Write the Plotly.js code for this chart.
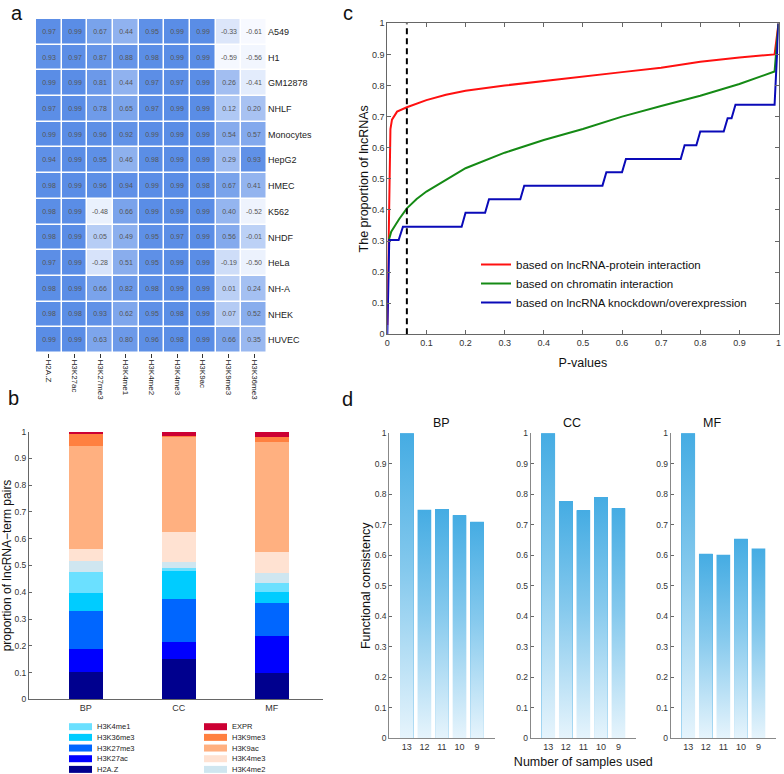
<!DOCTYPE html>
<html><head><meta charset="utf-8">
<script src="https://cdn.plot.ly/plotly-3.0.1.min.js"></script>
<style>html,body{margin:0;padding:0;background:#fff}</style>
</head><body><div id="chart" style="width:784px;height:774px"></div>
<script>
// ---------- Panel a: correlation heatmap ----------
const histoneMarks = ['H2A.Z','H3K27ac','H3K27me3','H3K4me1','H3K4me2','H3K4me3','H3K9ac','H3K9me3','H3K36me3'];
const cellLines = ['A549','H1','GM12878','NHLF','Monocytes','HepG2','HMEC','K562','NHDF','HeLa','NH-A','NHEK','HUVEC'];
const corrA549      = [0.97,0.99,0.67,0.44,0.95,0.99,0.99,-0.33,-0.61];
const corrH1        = [0.93,0.97,0.87,0.88,0.98,0.99,0.99,-0.59,-0.56];
const corrGM12878   = [0.99,0.99,0.81,0.44,0.97,0.97,0.99,0.26,-0.41];
const corrNHLF      = [0.97,0.99,0.78,0.65,0.97,0.99,0.99,0.12,0.20];
const corrMonocytes = [0.99,0.99,0.96,0.92,0.99,0.99,0.99,0.54,0.57];
const corrHepG2     = [0.94,0.99,0.95,0.46,0.98,0.99,0.99,0.29,0.93];
const corrHMEC      = [0.98,0.99,0.96,0.94,0.99,0.99,0.98,0.67,0.41];
const corrK562      = [0.98,0.99,-0.48,0.66,0.99,0.99,0.99,0.40,-0.52];
const corrNHDF      = [0.98,0.99,0.05,0.49,0.95,0.97,0.99,0.56,-0.01];
const corrHeLa      = [0.97,0.99,-0.28,0.51,0.95,0.99,0.99,-0.19,-0.50];
const corrNHA       = [0.98,0.99,0.66,0.82,0.98,0.99,0.99,0.01,0.24];
const corrNHEK      = [0.98,0.98,0.93,0.62,0.95,0.98,0.99,0.07,0.52];
const corrHUVEC     = [0.99,0.99,0.63,0.80,0.96,0.98,0.99,0.66,0.35];

// ---------- Panel b: stacked proportions ----------
const stackMarks = ['H2A.Z','H3K27ac','H3K27me3','H3K36me3','H3K4me1','H3K4me2','H3K4me3','H3K9ac','H3K9me3','EXPR'];
const goCategories = ['BP','CC','MF'];
const bpShare = [0.103,0.086,0.141,0.069,0.077,0.042,0.045,0.385,0.043,0.009];
const ccShare = [0.150,0.065,0.160,0.106,0.011,0.022,0.111,0.354,0.005,0.016];
const mfShare = [0.100,0.135,0.125,0.042,0.034,0.036,0.078,0.410,0.021,0.019];

// ---------- Panel c: cumulative proportion of lncRNAs ----------
const pRed    = [0,0.003,0.005,0.008,0.012,0.025,0.05,0.1,0.15,0.2,0.3,0.4,0.5,0.6,0.7,0.8,0.9,0.99,1.0];
const propRed = [0.03,0.30,0.55,0.66,0.69,0.716,0.73,0.753,0.77,0.783,0.80,0.815,0.83,0.843,0.857,0.876,0.89,0.90,1.0];
const pGreen    = [0.004,0.01,0.02,0.03,0.05,0.075,0.1,0.15,0.2,0.3,0.4,0.5,0.6,0.7,0.8,0.9,0.99,1.0];
const propGreen = [0.303,0.33,0.35,0.37,0.405,0.435,0.459,0.496,0.534,0.584,0.625,0.66,0.70,0.734,0.767,0.805,0.845,1.0];
const pBlue    = [0,0.005,0.029,0.04,0.19,0.2,0.25,0.26,0.34,0.35,0.55,0.56,0.6,0.61,0.75,0.76,0.79,0.8,0.86,0.87,0.88,0.89,0.99,1.0];
const propBlue = [0.0,0.303,0.303,0.346,0.346,0.391,0.391,0.434,0.434,0.478,0.478,0.521,0.521,0.564,0.564,0.608,0.608,0.652,0.652,0.695,0.695,0.738,0.738,1.0];
const curveNames = ['based on lncRNA-protein interaction','based on chromatin interaction','based on lncRNA knockdown/overexpression'];
const pThreshold = 0.05;

// ---------- Panel d: functional consistency ----------
const sampleCounts = ['13','12','11','10','9'];
const bpConsistency = [1.0,0.749,0.751,0.731,0.710];
const ccConsistency = [1.0,0.777,0.748,0.790,0.754];
const mfConsistency = [1.0,0.605,0.602,0.654,0.622];

// ================= build =================
const W = 784, H = 774;
const fx = p => p / W;
const fy = p => 1 - p / H;
const FONT = 'Liberation Sans, Arial, sans-serif';

const corrMatrix = [corrA549,corrH1,corrGM12878,corrNHLF,corrMonocytes,corrHepG2,corrHMEC,corrK562,corrNHDF,corrHeLa,corrNHA,corrNHEK,corrHUVEC];
const stackColors = ['#00008e','#0000ff','#0066ff','#00ccff','#6be0ff','#cfe6f0','#ffe2d2','#ffb080','#ff8040','#cc0033'];
const curveColors = ['#ff1010','#158a15','#0a0ab8'];

const traces = [];

traces.push({
  type:'heatmap', x:histoneMarks, y:cellLines, z:corrMatrix, xaxis:'x', yaxis:'y',
  zmin:-0.62, zmax:0.99, colorscale:[[0,'#f8faff'],[1,'#5a8de6']], showscale:false,
  xgap:1.5, ygap:1.5, texttemplate:'%{z:.2f}', textfont:{size:7, color:'#555', family:FONT},
  hoverinfo:'skip'
});

stackMarks.forEach((m,i) => {
  traces.push({
    type:'bar', name:m, x:[1,2,3], y:[bpShare[i],ccShare[i],mfShare[i]],
    xaxis:'x2', yaxis:'y2', width:0.366, marker:{color:stackColors[i], line:{width:0}},
    showlegend:false, hoverinfo:'skip'
  });
});

const dPanels = [[bpConsistency,'x4','y4'],[ccConsistency,'x5','y5'],[mfConsistency,'x6','y6']];
dPanels.forEach(([vals,xa,ya]) => {
  traces.push({
    type:'bar', x:sampleCounts.map((s,i)=>i+1), y:vals, xaxis:xa, yaxis:ya, width:0.78,
    marker:{color:'#47ace3', line:{width:0}}, showlegend:false, hoverinfo:'skip'
  });
});

const pSets = [[pRed,propRed],[pGreen,propGreen],[pBlue,propBlue]];
pSets.forEach(([px,py],i) => {
  traces.push({
    type:'scatter', mode:'lines', name:curveNames[i], x:px, y:py, xaxis:'x3', yaxis:'y3',
    line:{color:curveColors[i], width:2}, showlegend:true, hoverinfo:'skip'
  });
});

// gradient overlay for panel d bars
dPanels.forEach(([vals,xa,ya]) => {
  vals.forEach((v,i) => {
    const c = i + 1;
    traces.push({
      type:'scatter', mode:'none', xaxis:xa, yaxis:ya,
      x:[c-0.39,c-0.39,c+0.39,c+0.39,c-0.39], y:[0,v,v,0,0], fill:'toself',
      fillgradient:{type:'vertical', colorscale:[[0,'#e6f4fc'],[0.55,'#85c9ed'],[1,'#45ace3']]},
      showlegend:false, hoverinfo:'skip'
    });
  });
});

const axBase = {showgrid:false, zeroline:false, showline:true, linecolor:'#666', linewidth:1,
  tickfont:{size:9, color:'#333', family:FONT}, tickcolor:'#666'};

const layout = {
  width:W, height:H, margin:{l:0,r:0,t:0,b:0}, paper_bgcolor:'#fff', plot_bgcolor:'rgba(0,0,0,0)',
  font:{family:FONT, color:'#111'}, barmode:'stack', showlegend:true,
  xaxis:{domain:[fx(36),fx(267)], anchor:'y', type:'category', tickangle:90, ticks:'outside', ticklen:4,
    tickcolor:'#333', showline:false, showgrid:false, zeroline:false, tickfont:{size:8,color:'#222'}},
  yaxis:{domain:[fy(353),fy(19)], anchor:'x', type:'category', autorange:'reversed', side:'right',
    ticks:'', showline:false, showgrid:false, zeroline:false, tickfont:{size:9,color:'#222'}},
  xaxis2:Object.assign({}, axBase, {domain:[fx(29),fx(323)], anchor:'y2', range:[0.39,3.55],
    tickvals:[1,2,3], ticktext:goCategories, ticks:'', tickfont:{size:9,color:'#333'}}),
  yaxis2:Object.assign({}, axBase, {domain:[fy(699.3),fy(431.7)], anchor:'x2', range:[0,1], dtick:0.1,
    ticks:'inside', ticklen:3, tickfont:{size:8.5,color:'#333'},
    title:{text:'proportion of lncRNA\u2212term pairs', font:{size:12,color:'#111'}, standoff:6}}),
  xaxis3:Object.assign({}, axBase, {domain:[fx(387.3),fx(778.5)], anchor:'y3', range:[0,1], dtick:0.1,
    ticks:'inside', ticklen:4, mirror:'ticks', ticklabeloverflow:'allow',
    title:{text:'P-values', font:{size:12.5,color:'#111'}, standoff:11}}),
  yaxis3:Object.assign({}, axBase, {domain:[fy(334.3),fy(23.3)], anchor:'x3', range:[0,1], dtick:0.1,
    ticks:'inside', ticklen:4, mirror:'ticks',
    title:{text:'The proportion of lncRNAs', font:{size:12.5,color:'#111'}, standoff:0}}),
  legend:{x:fx(476), y:fy(250), xanchor:'left', yanchor:'top', bgcolor:'rgba(0,0,0,0)',
    font:{size:11.5, color:'#111'}, itemwidth:30, traceorder:'normal'},
  shapes:[], annotations:[]
};

const dX = [[389.3,494.6],[530.7,636],[670.7,776]];
const dTitles = ['BP','CC','MF'];
dX.forEach((d,k) => {
  const n = k + 4;
  layout['xaxis'+n] = Object.assign({}, axBase, {domain:[fx(d[0]),fx(d[1])], anchor:'y'+n, range:[0,6],
    tickvals:sampleCounts.map((s,i)=>i+1), ticktext:sampleCounts, ticks:'', linecolor:'#888'});
  layout['yaxis'+n] = Object.assign({}, axBase, {domain:[fy(738.3),fy(433.3)], anchor:'x'+n, range:[0,1],
    dtick:0.1, ticks:'inside', ticklen:3, linecolor:'#888', tickfont:{size:8.5,color:'#333'}});
  layout.annotations.push({text:dTitles[k], xref:'paper', yref:'paper', x:fx((d[0]+d[1])/2), y:fy(422.5),
    showarrow:false, font:{size:12.5, color:'#111'}});
});
layout.yaxis4.title = {text:'Functional consistency', font:{size:12.5,color:'#111'}, standoff:1};
layout.xaxis5.title = {text:'Number of samples used', font:{size:12.5,color:'#111'}, standoff:6};

layout.shapes.push({type:'line', xref:'x3', yref:'y3', x0:pThreshold, x1:pThreshold, y0:0, y1:1,
  line:{color:'#000', width:2, dash:'6px,4px'}});

// manual legend for panel b (two columns)
const leftCol = stackMarks.slice(0,5).map((m,i)=>i).reverse();
const rightCol = stackMarks.slice(5).map((m,i)=>i+5).reverse();
[[leftCol,69,92,95],[rightCol,204,227,230]].forEach(([idxs,x0,x1,tx]) => {
  idxs.forEach((idx,r) => {
    const yc = 726.7 + r*10.67;
    layout.shapes.push({type:'rect', xref:'paper', yref:'paper', x0:fx(x0), x1:fx(x1),
      y0:fy(yc+3.5), y1:fy(yc-3.5), fillcolor:stackColors[idx], line:{width:0}});
    layout.annotations.push({text:stackMarks[idx], xref:'paper', yref:'paper', x:fx(tx), y:fy(yc),
      xanchor:'left', yanchor:'middle', showarrow:false, font:{size:7.5, color:'#222'}});
  });
});

// panel letters
[['a',17,13],['b',13,398],['c',348,13],['d',347,399]].forEach(([t,x,y]) => {
  layout.annotations.push({text:t, xref:'paper', yref:'paper', x:fx(x), y:fy(y), xanchor:'center',
    yanchor:'middle', showarrow:false, font:{size:20, color:'#111'}});
});

Plotly.newPlot('chart', traces, layout, {staticPlot:true});
</script></body></html>
